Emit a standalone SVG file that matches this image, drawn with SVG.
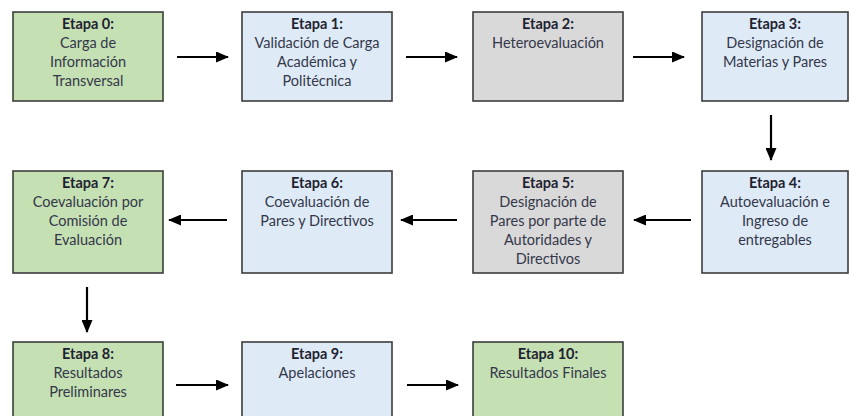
<svg xmlns="http://www.w3.org/2000/svg" width="849" height="416" viewBox="0 0 849 416">
<defs>
<marker id="ah" markerWidth="13" markerHeight="11" refX="12" refY="5.5" orient="auto" markerUnits="userSpaceOnUse">
<path d="M0,0 L13,5.5 L0,11 Z" fill="#000"/>
</marker>
<style>
.box{stroke:#3d3d3d;stroke-width:1.6}
.g{fill:#c5e0b3}
.b{fill:#deebf7}
.y{fill:#d9d9d9}
text{font-family:Lato,"Liberation Sans",sans-serif;font-size:14.5px;text-anchor:middle;fill:#34374a}
.t{font-weight:bold;fill:#1f2230}
.c{stroke:#000;stroke-width:2.2;fill:none;marker-end:url(#ah)}
</style>
</defs>
<rect width="849" height="416" fill="#fff"/>
<g id="connectors">
<line class="c" x1="177" y1="57" x2="228" y2="57"/>
<line class="c" x1="406" y1="57" x2="457" y2="57"/>
<line class="c" x1="633" y1="57" x2="684" y2="57"/>
<line class="c" x1="771" y1="115" x2="771" y2="160"/>
<line class="c" x1="691" y1="220" x2="634" y2="220"/>
<line class="c" x1="457" y1="220" x2="401" y2="220"/>
<line class="c" x1="227" y1="220" x2="169" y2="220"/>
<line class="c" x1="87" y1="287" x2="87" y2="332"/>
<line class="c" x1="176" y1="385" x2="228" y2="385"/>
<line class="c" x1="407" y1="385" x2="458" y2="385"/>
</g>
<g id="etapa0"><rect class="box g" x="13" y="12" width="150" height="89"/>
<text x="88" y="29" class="t">Etapa 0:</text><text x="88" y="48">Carga de</text><text x="88" y="67">Información</text><text x="88" y="86">Transversal</text></g>
<g id="etapa1"><rect class="box b" x="242" y="12" width="150" height="89"/>
<text x="317" y="29" class="t">Etapa 1:</text><text x="317" y="48">Validación de Carga</text><text x="317" y="67">Académica y</text><text x="317" y="86">Politécnica</text></g>
<g id="etapa2"><rect class="box y" x="473" y="12" width="150" height="89"/>
<text x="548" y="29" class="t">Etapa 2:</text><text x="548" y="48">Heteroevaluación</text></g>
<g id="etapa3"><rect class="box b" x="702" y="12" width="146" height="89"/>
<text x="775" y="29" class="t">Etapa 3:</text><text x="775" y="48">Designación de</text><text x="775" y="67">Materias y Pares</text></g>
<g id="etapa4"><rect class="box b" x="702" y="171" width="146" height="102"/>
<text x="775" y="188" class="t">Etapa 4:</text><text x="775" y="207">Autoevaluación e</text><text x="775" y="226">Ingreso de</text><text x="775" y="245">entregables</text></g>
<g id="etapa5"><rect class="box y" x="473" y="171" width="150" height="102"/>
<text x="548" y="188" class="t">Etapa 5:</text><text x="548" y="207">Designación de</text><text x="548" y="226">Pares por parte de</text><text x="548" y="245">Autoridades y</text><text x="548" y="264">Directivos</text></g>
<g id="etapa6"><rect class="box b" x="242" y="171" width="150" height="102"/>
<text x="317" y="188" class="t">Etapa 6:</text><text x="317" y="207">Coevaluación de</text><text x="317" y="226">Pares y Directivos</text></g>
<g id="etapa7"><rect class="box g" x="13" y="171" width="150" height="102"/>
<text x="88" y="188" class="t">Etapa 7:</text><text x="88" y="207">Coevaluación por</text><text x="88" y="226">Comisión de</text><text x="88" y="245">Evaluación</text></g>
<g id="etapa8"><rect class="box g" x="13" y="342" width="150" height="90"/>
<text x="88" y="359" class="t">Etapa 8:</text><text x="88" y="378">Resultados</text><text x="88" y="397">Preliminares</text></g>
<g id="etapa9"><rect class="box b" x="242" y="342" width="150" height="90"/>
<text x="317" y="359" class="t">Etapa 9:</text><text x="317" y="378">Apelaciones</text></g>
<g id="etapa10"><rect class="box g" x="473" y="342" width="150" height="90"/>
<text x="548" y="359" class="t">Etapa 10:</text><text x="548" y="378">Resultados Finales</text></g>
</svg>
